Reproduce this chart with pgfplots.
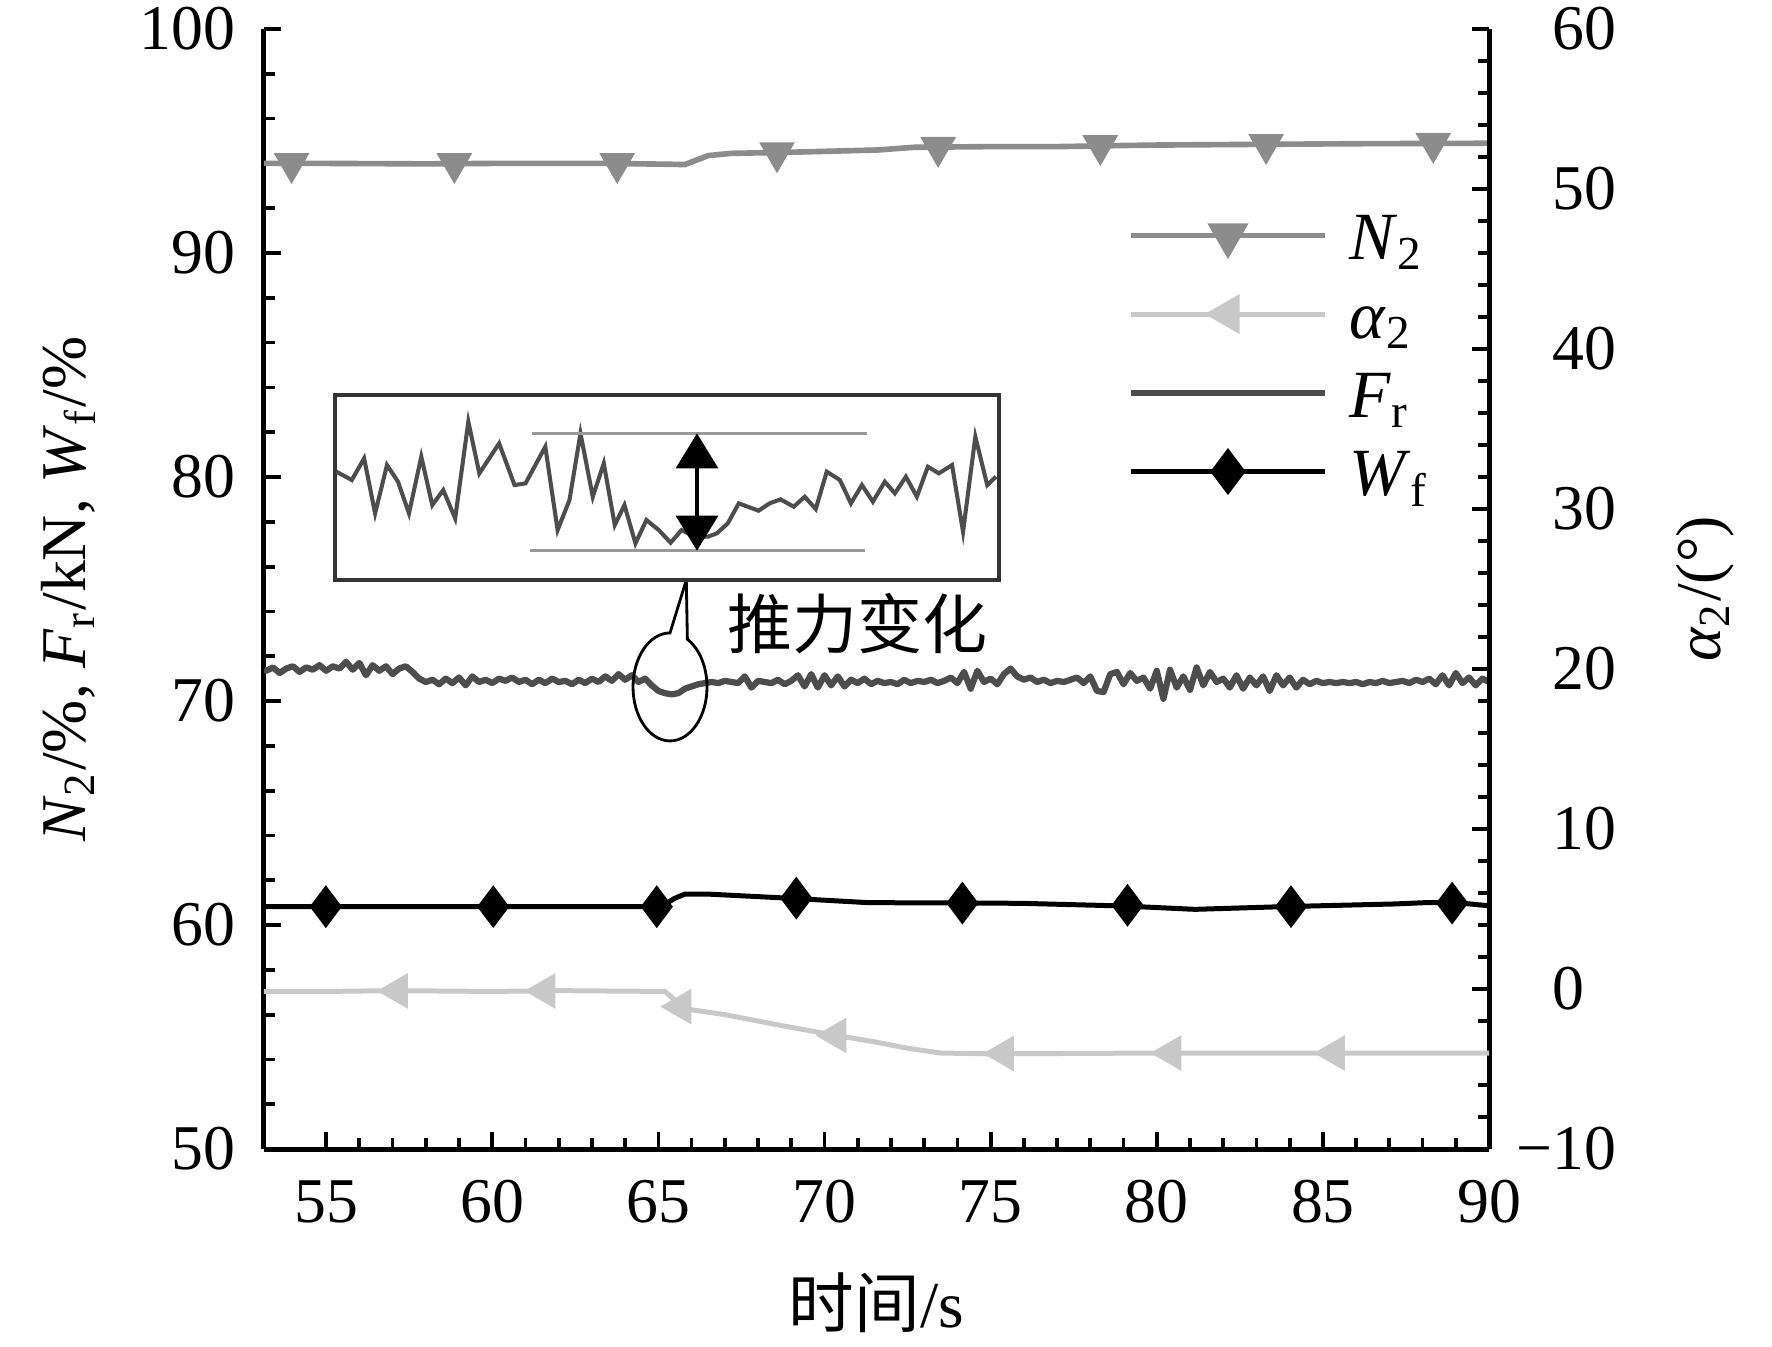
\documentclass[border=0pt]{standalone}
\usepackage{fontspec}
\setmainfont{Liberation Serif}
\newfontfamily\cjk{Noto Sans CJK SC}
\usepackage{pgfplots}
\pgfplotsset{compat=1.18}
\usetikzlibrary{arrows.meta}
\definecolor{n2col}{HTML}{8C8C8C}
\definecolor{a2col}{HTML}{C8C8C8}
\definecolor{frcol}{HTML}{4D4D4D}
\newcommand{\tfont}{\fontsize{10.2}{12}\selectfont}
\begin{document}
\begin{tikzpicture}
\pgfplotsset{
  base/.style={scale only axis, width=196pt, height=179.2pt, xmin=53.13, xmax=90,
    tick align=inside, major tick length=2.7pt, minor tick length=1.7pt,
    tick style={line width=0.6pt, black},
    axis line style={line width=0.8pt, black},
    tick label style={font=\tfont},
    /pgf/number format/assume math mode=true},
  n2s/.style={draw=n2col, line width=0.9pt, mark=triangle*, mark size=2.9pt, mark options={rotate=180, fill=n2col, draw=n2col, solid}},
  a2s/.style={draw=a2col, line width=0.8pt, mark=triangle*, mark size=2.9pt, mark options={rotate=90, fill=a2col, draw=a2col, solid}},
  frs/.style={draw=frcol, line width=1.0pt, line join=round},
  wfs/.style={draw=black, line width=0.8pt, mark=diamond*, mark size=3.1pt, mark options={fill=black, draw=black, solid}},
}
% ---------------- left axis ----------------
\begin{axis}[base, axis x line*=bottom, axis y line*=left,
  ymin=50, ymax=100, ytick={50,60,...,100}, minor y tick num=4,
  xtick={55,60,...,90}, minor x tick num=4,
  xticklabel style={anchor=base, yshift=-11.8pt},
  yticklabel style={inner sep=0pt, xshift=-4.4pt},
  xlabel={{\cjk 时间}/s},
  ylabel={\textit{N}\textsubscript{2}/\%, \textit{F}\textsubscript{r}/kN, \textit{W}\textsubscript{f}/\%},
  every axis x label/.style={at={(axis description cs:0.5,-0.159)}, anchor=base, font=\fontsize{10.5}{12}\selectfont},
  every axis y label/.style={at={(axis description cs:-0.146,0.5)}, anchor=base, rotate=90, font=\tfont},
]
% N2 line
\addplot[n2col, line width=0.9pt] coordinates {
(53.13,94.0) (55,94.0) (58,93.98) (60,94.0) (62,94.0) (63.5,94.0) (65,93.97) (65.8,93.95)
(66.5,94.35) (67.2,94.45) (69,94.5) (71.6,94.6) (72.7,94.72) (75,94.75) (77,94.75)
(79,94.8) (80,94.82) (83,94.85) (86,94.88) (90,94.9)};
\addplot[only marks, mark=triangle*, mark size=2.9pt, mark options={rotate=180, fill=n2col, draw=n2col}] coordinates {
(53.96,94.0) (58.86,94.0) (63.76,94.0) (68.57,94.48) (73.42,94.72) (78.30,94.8) (83.29,94.85) (88.32,94.9)};
% Fr
\addplot[frs] table[row sep=\\] {
x y\\
53.13 71.40\\ 53.2 71.35\\ 53.4 71.50\\ 53.6 71.25\\ 53.8 71.45\\ 54.0 71.55\\ 54.2 71.30\\ 54.4 71.50\\
54.6 71.40\\ 54.8 71.60\\ 55.0 71.35\\ 55.2 71.55\\ 55.4 71.45\\ 55.6 71.75\\ 55.8 71.40\\ 56.0 71.70\\
56.2 71.15\\ 56.4 71.60\\ 56.6 71.35\\ 56.8 71.55\\ 57.0 71.20\\ 57.2 71.45\\ 57.4 71.55\\ 57.6 71.30\\
57.8 71.00\\ 58.0 70.85\\ 58.2 70.95\\ 58.4 70.75\\ 58.6 71.00\\ 58.8 70.80\\ 59.0 71.05\\ 59.2 70.70\\
59.4 71.10\\ 59.6 70.85\\ 59.8 70.95\\ 60.0 70.80\\ 60.2 71.00\\ 60.4 70.90\\ 60.6 71.05\\ 60.8 70.85\\
61.0 70.95\\ 61.2 70.75\\ 61.4 70.95\\ 61.6 70.80\\ 61.8 71.00\\ 62.0 70.85\\ 62.2 70.90\\ 62.4 70.75\\
62.6 70.95\\ 62.8 70.80\\ 63.0 71.00\\ 63.2 70.85\\ 63.4 71.10\\ 63.6 70.90\\ 63.8 71.20\\ 64.0 70.95\\
64.2 71.15\\ 64.4 70.85\\ 64.6 71.00\\ 64.8 70.70\\ 65.0 70.45\\ 65.2 70.35\\ 65.4 70.30\\ 65.6 70.35\\
65.8 70.55\\ 66.0 70.65\\ 66.2 70.75\\ 66.4 70.80\\ 66.6 70.85\\ 66.8 70.80\\ 67.0 70.90\\ 67.2 70.85\\
67.4 70.80\\ 67.6 71.10\\ 67.8 70.60\\ 68.0 70.90\\ 68.2 70.85\\ 68.4 70.80\\ 68.6 70.95\\ 68.8 70.75\\
69.0 70.90\\ 69.2 71.15\\ 69.4 70.65\\ 69.6 71.20\\ 69.8 70.60\\ 70.0 71.15\\ 70.2 70.70\\ 70.4 71.10\\
70.6 70.65\\ 70.8 70.95\\ 71.0 70.80\\ 71.2 71.00\\ 71.4 70.75\\ 71.6 70.90\\ 71.8 70.80\\ 72.0 70.85\\
72.2 70.75\\ 72.4 70.95\\ 72.6 70.80\\ 72.8 70.90\\ 73.0 70.85\\ 73.2 70.95\\ 73.4 70.80\\ 73.6 70.90\\
73.8 71.05\\ 74.0 70.80\\ 74.2 71.30\\ 74.4 70.55\\ 74.6 71.35\\ 74.8 70.85\\ 75.0 71.00\\ 75.2 70.75\\
75.4 71.20\\ 75.6 71.45\\ 75.8 71.10\\ 76.0 70.95\\ 76.2 71.05\\ 76.4 70.85\\ 76.6 70.95\\ 76.8 70.80\\
77.0 70.90\\ 77.2 70.85\\ 77.4 70.95\\ 77.6 71.05\\ 77.8 70.80\\ 78.0 71.10\\ 78.2 70.45\\ 78.4 70.40\\
78.6 71.20\\ 78.8 71.30\\ 79.0 70.75\\ 79.2 71.25\\ 79.4 70.90\\ 79.6 71.05\\ 79.8 70.55\\ 80.0 71.35\\
80.2 70.10\\ 80.4 71.40\\ 80.6 70.60\\ 80.8 71.10\\ 81.0 70.50\\ 81.2 71.50\\ 81.4 70.70\\ 81.6 71.30\\
81.8 70.85\\ 82.0 71.00\\ 82.2 70.60\\ 82.4 71.15\\ 82.6 70.55\\ 82.8 71.05\\ 83.0 70.70\\ 83.2 71.10\\
83.4 70.45\\ 83.6 71.15\\ 83.8 70.70\\ 84.0 71.05\\ 84.2 70.60\\ 84.4 70.95\\ 84.6 70.75\\ 84.8 70.90\\
85.0 70.80\\ 85.2 70.85\\ 85.4 70.80\\ 85.6 70.85\\ 85.8 70.80\\ 86.0 70.85\\ 86.2 70.75\\ 86.4 70.85\\
86.6 70.80\\ 86.8 70.90\\ 87.0 70.80\\ 87.2 70.85\\ 87.4 70.90\\ 87.6 70.80\\ 87.8 70.95\\ 88.0 70.85\\
88.2 71.00\\ 88.4 70.75\\ 88.6 71.15\\ 88.8 70.70\\ 89.0 71.25\\ 89.2 70.80\\ 89.4 71.05\\ 89.6 70.70\\
89.8 71.00\\ 90.0 70.85\\
};
% Wf
\addplot[black, line width=0.8pt] coordinates {
(53.13,60.82) (60,60.82) (65.07,60.82) (65.5,61.2) (65.8,61.38) (66.5,61.38) (68.9,61.2)
(71.3,61.0) (75.9,60.97) (79,60.85) (81.15,60.7) (83.8,60.82) (87.15,60.94) (88.1,61.0)
(89,61.0) (90,60.86)};
\addplot[only marks, mark=diamond*, mark size=3.1pt, mark options={fill=black, draw=black}] coordinates {
(54.99,60.82) (60.03,60.82) (64.95,60.82) (69.15,61.2) (74.15,60.98) (79.12,60.88) (84.04,60.82) (88.89,60.98)};
\coordinate (insetNW) at (axis cs:55.27,83.66);
% callout
\draw[line width=0.45pt] (axis cs:65.35,73.04) arc[start angle=90, end angle=422, x radius=5.92pt, y radius=8.64pt] -- (axis cs:65.84,75.40) -- cycle;
\node[font={\cjk\fontsize{10.4}{12}\selectfont}] at (axis cs:70.98,73.46) {推力变化};
\end{axis}
% ---------------- right axis ----------------
\begin{axis}[base, axis x line=none, axis y line*=right,
  ymin=-10, ymax=60, ytick={-10,0,...,60}, yticklabels={\llap{−}10,0,10,20,30,40,50,60},
  minor y tick num=4,
  yticklabel style={anchor=west, inner sep=0pt, xshift=10pt},
  ylabel={\textit{α}\textsubscript{2}/(°)},
  every axis y label/.style={at={(axis description cs:1.189,0.5)}, anchor=base, rotate=90, font=\tfont},
  legend image code/.code={\draw[mark repeat=2,mark phase=2,#1] plot coordinates {(0pt,0pt) (15.45pt,0pt) (30.9pt,0pt)};},
  legend cell align=left,
  legend style={draw=none, fill=none, at={(axis description cs:0.7045,0.8387)}, anchor=north west,
    inner sep=0pt, row sep=4.8pt, column sep=3.5pt, font=\fontsize{10.8}{13}\selectfont,
    nodes={inner sep=0pt, text height=7.8pt, text depth=0pt}},
]
\addplot[a2col, line width=0.8pt, forget plot] coordinates {
(53.13,-0.15) (55,-0.15) (57,-0.1) (60,-0.15) (62,-0.1) (65.2,-0.15) (65.5,-0.7) (66.0,-1.3)
(67,-1.6) (68,-2.0) (69,-2.4) (70.35,-2.9) (71.5,-3.3) (72.5,-3.7) (73.5,-4.0) (75,-4.05)
(80,-4.0) (90,-4.0)};
\addplot[only marks, forget plot, mark=triangle*, mark size=2.9pt, mark options={rotate=90, fill=a2col, draw=a2col}] coordinates {
(57.15,-0.12) (61.59,-0.12) (65.68,-1.1) (70.35,-2.9) (75.39,-4.03) (80.43,-4.0) (85.35,-4.0)};
\addlegendimage{n2s}
\addlegendentry{\textit{N}\textsubscript{2}}
\addlegendimage{a2s}
\addlegendentry{\textit{α}\textsubscript{2}}
\addlegendimage{frs}
\addlegendentry{\textit{F}\textsubscript{r}}
\addlegendimage{wfs}
\addlegendentry{\textit{W}\textsubscript{f}}
\end{axis}
% ---------------- inset ----------------
\begin{axis}[at={(insetNW)}, anchor=north west, scale only axis, width=106.24pt, height=29.6pt,
  xmin=12, xmax=1522, ymin=15, ymax=570, y dir=reverse, xtick=\empty, ytick=\empty,
  axis line style={line width=0.6pt, black!80}, axis background/.style={fill=white}]
\addplot[frcol, line width=0.65pt] coordinates {
(15,245) (50,270) (78,205) (103,370) (130,225) (155,275) (180,370) (208,200) (233,345) (258,300)
(285,385) (315,95) (340,250) (385,160) (420,285) (445,280) (490,170) (518,420) (545,330) (570,130)
(598,320) (623,220) (648,405) (670,345) (695,460) (720,390) (748,420) (775,458) (800,420) (830,440)
(860,440) (880,430) (905,400) (930,340) (975,362) (1000,340) (1025,328) (1055,350) (1080,320) (1105,357)
(1130,245) (1160,270) (1185,340) (1210,285) (1235,335) (1262,275) (1285,310) (1310,260) (1335,320) (1360,230)
(1385,250) (1415,225) (1440,425) (1468,140) (1495,285) (1515,260)};
\addplot[black!40, line width=0.5pt] coordinates {(460,130) (1222,130)};
\addplot[black!40, line width=0.5pt] coordinates {(455,482) (1218,482)};
\draw[{Triangle[width=6.7pt,length=5.6pt]}-{Triangle[width=6.7pt,length=5.6pt]}, line width=0.6pt] (axis cs:835,130) -- (axis cs:835,482);
\end{axis}
\pgfresetboundingbox
\path (-42.24pt,-31.52pt) rectangle (241.28pt,183.84pt);
\end{tikzpicture}
\end{document}
